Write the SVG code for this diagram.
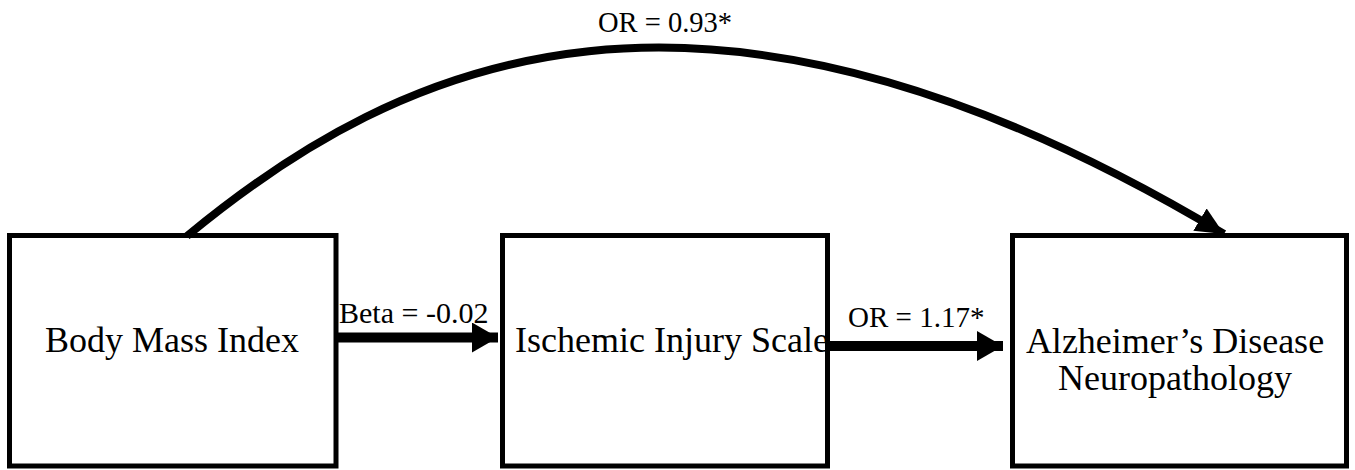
<svg xmlns="http://www.w3.org/2000/svg" width="1355" height="470" viewBox="0 0 1355 470">
<style>
.box{fill:#fff;stroke:#000;stroke-width:5}
.t{font-family:'Liberation Serif','Times New Roman',Times,serif;font-size:36px;fill:#000;text-anchor:middle}
.lab{font-family:'Liberation Serif','Times New Roman',Times,serif;fill:#000}
.conn{fill:none;stroke:#000}
</style>
<defs>
<marker id="ah" markerUnits="userSpaceOnUse" markerWidth="30" markerHeight="32" refX="26" refY="15" orient="auto" viewBox="0 0 30 32">
<path d="M0,0 L26,15 L0,30 z" fill="#000"/>
</marker>
<marker id="ah2" markerUnits="userSpaceOnUse" markerWidth="32" markerHeight="30" refX="28" refY="13" orient="auto" viewBox="0 0 32 30">
<path d="M0,0 L28,13 L0,26 z" fill="#000"/>
</marker>
</defs>
<g id="node-bmi">
<rect class="box" x="9.5" y="235.5" width="326.5" height="230.5"/>
<text class="t" x="172" y="352">Body Mass Index</text>
</g>
<g id="node-isch">
<rect class="box" x="502.5" y="235.5" width="325" height="230.5"/>
<text class="t" x="672" y="352">Ischemic Injury Scale</text>
</g>
<g id="node-ad">
<rect class="box" x="1012.5" y="235.5" width="334" height="230.5"/>
<text class="t" x="1175" y="353">Alzheimer’s Disease</text>
<text class="t" x="1175" y="390">Neuropathology</text>
</g>
<g id="connectors">
<line class="conn" x1="338" y1="337.5" x2="498" y2="337.5" stroke-width="10" marker-end="url(#ah)"/>
<line class="conn" x1="830" y1="346" x2="1003" y2="346" stroke-width="10" marker-end="url(#ah)"/>
<path class="conn" d="M187,236 C400,60 700,-80 1224,234" stroke-width="8" marker-end="url(#ah2)"/>
<text class="lab" x="339" y="323" font-size="30">Beta = -0.02</text>
<text class="lab" x="848" y="327" font-size="29">OR = 1.17*</text>
<text class="lab" x="598" y="32" font-size="28.5">OR = 0.93*</text>
</g>
</svg>
